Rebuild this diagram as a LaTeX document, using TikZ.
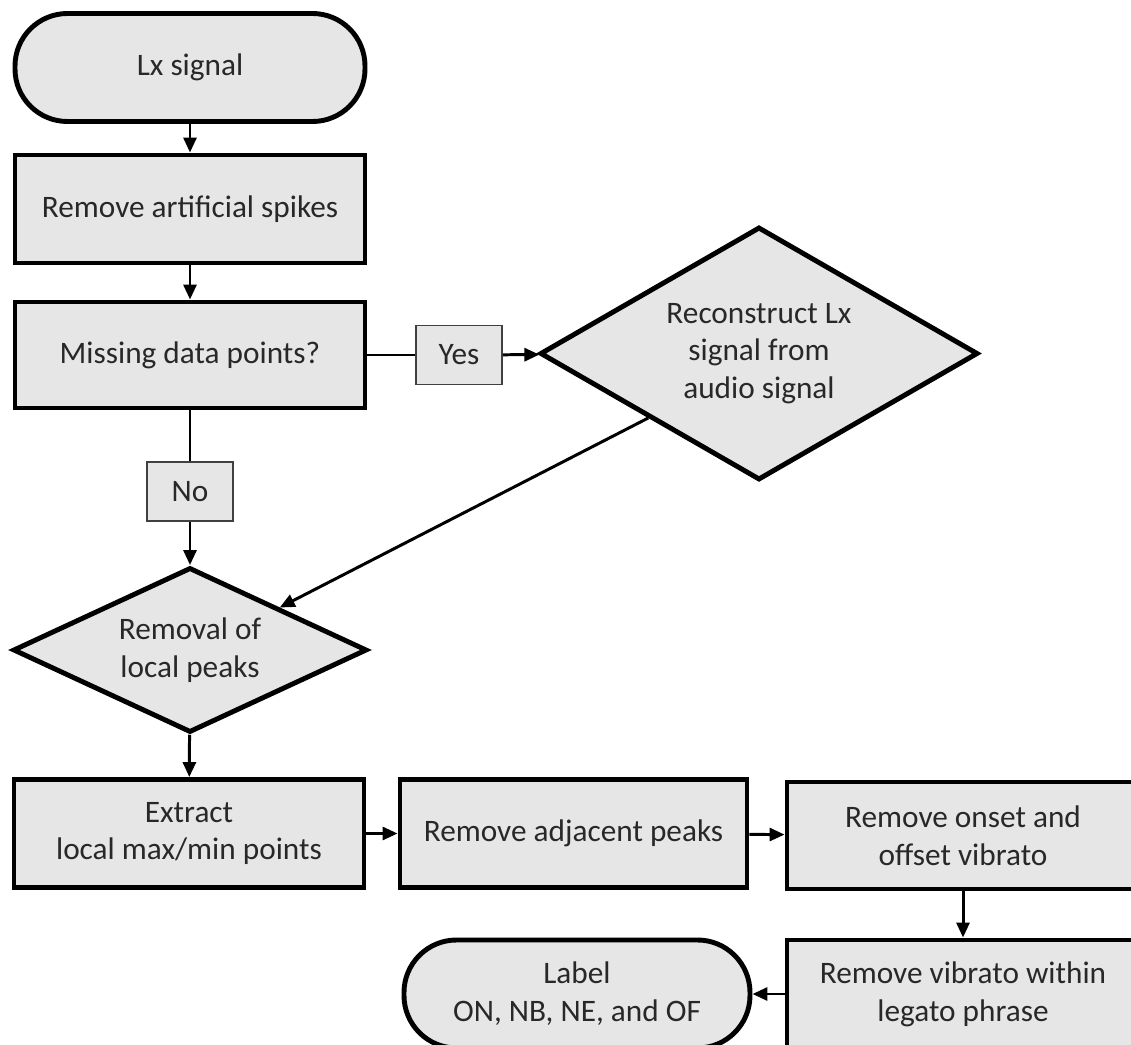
\documentclass[tikz,border=0pt]{standalone}
\usepackage{fontspec}
\setmainfont{Carlito}
\usetikzlibrary{shapes.geometric,arrows.meta}
\definecolor{boxgray}{RGB}{230,230,230}
\definecolor{textgray}{RGB}{40,40,40}
\begin{document}
\begin{tikzpicture}[
        txt/.style={text=textgray,font=\fontsize{17.8}{21.5}\selectfont,align=center},
        stepbox/.style={txt,draw,line width=2.8pt,fill=boxgray,minimum width=7cm,minimum height=2.16cm},
        terminal/.style={stepbox,rounded corners=1.05cm},
        decision/.style={txt,draw,diamond,line width=2.8pt,fill=boxgray,inner sep=1pt},
        answer/.style={txt,draw=black!75,line width=1pt,fill=boxgray,minimum width=1.72cm,minimum height=1.18cm},
        link/.style={line width=1.7pt},
        flow/.style={link,-{Triangle[length=0.3cm,width=0.26cm]}}
    ]
    \useasboundingbox (0,0) rectangle (22.62,-20.9);
    %% signal and clean up
    \node[terminal] (lx) at (3.8,-1.35) {Lx signal};
    \node[stepbox] (spikes) at (3.8,-4.18) {Remove artificial spikes};
    \node[stepbox,minimum height=2.12cm] (missing) at (3.8,-7.1) {Missing data points?};
    \node[answer] (yes) at (9.18,-7.1) {Yes};
    \node[decision,minimum width=8.76cm,minimum height=5.06cm,shape aspect=1.73] (recon) at (15.18,-7.07) {Reconstruct Lx\\signal from\\audio signal};
    \node[answer] (no) at (3.8,-9.83) {No};
    \node[decision,minimum width=7.08cm,minimum height=3.3cm,shape aspect=2.15] (peaks) at (3.8,-13.0) {Removal of\\local peaks};
    %% vibrato steps
    \node[stepbox] (extract) at (3.78,-16.67) {Extract\\local max/min points};
    \node[stepbox,minimum width=6.94cm] (adjacent) at (11.47,-16.67) {Remove adjacent peaks};
    \node[stepbox,minimum width=7.04cm,minimum height=2.14cm] (onset) at (19.26,-16.71) {Remove onset and\\offset vibrato};
    \node[stepbox,minimum width=7.04cm] (within) at (19.26,-19.88) {Remove vibrato within\\legato phrase};
    \node[terminal,minimum width=6.92cm] (label) at (11.54,-19.88) {Label\\ON, NB, NE, and OF};
    %% connectors
    \draw[flow] (lx) -- (spikes);
    \draw[flow] (spikes) -- (missing);
    \draw[link] (missing) -- (yes);
    \draw[flow] (yes) -- (recon);
    \draw[link] (missing) -- (no);
    \draw[flow] (no) -- (peaks);
    \draw[flow] (recon.south west) -- (peaks.north east);
    \draw[flow] (peaks) -- (extract);
    \draw[flow] (extract) -- (adjacent);
    \draw[flow] (adjacent) -- (onset);
    \draw[flow] (onset) -- (within);
    \draw[flow] (within) -- (label);
\end{tikzpicture}
\end{document}
